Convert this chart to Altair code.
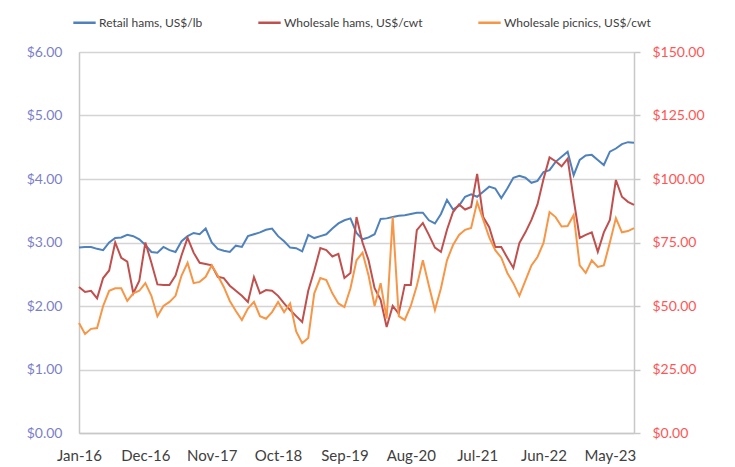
import altair as alt
import pandas as pd

months = [d.strftime("%b-%y") for d in pd.date_range("2016-01-01", periods=93, freq="MS")]
x_ticks = ["Jan-16", "Dec-16", "Nov-17", "Oct-18", "Sep-19", "Aug-20", "Jul-21", "Jun-22", "May-23"]

retail_hams = [
    2.92, 2.93, 2.93, 2.90, 2.88, 3.00, 3.07, 3.08, 3.12, 3.10,
    3.05, 2.96, 2.85, 2.84, 2.93, 2.88, 2.85, 3.02, 3.10, 3.15,
    3.13, 3.22, 3.00, 2.90, 2.87, 2.85, 2.95, 2.93, 3.10, 3.13,
    3.16, 3.20, 3.22, 3.10, 3.02, 2.92, 2.91, 2.86, 3.12, 3.07,
    3.10, 3.13, 3.22, 3.30, 3.35, 3.38, 3.15, 3.05, 3.08, 3.13,
    3.37, 3.38, 3.40, 3.42, 3.43, 3.45, 3.47, 3.47, 3.35, 3.30,
    3.45, 3.67, 3.52, 3.58, 3.72, 3.76, 3.72, 3.80, 3.88, 3.85,
    3.70, 3.85, 4.02, 4.05, 4.02, 3.94, 3.97, 4.11, 4.14, 4.27,
    4.35, 4.43, 4.06, 4.30, 4.37, 4.38, 4.30, 4.22, 4.43, 4.48,
    4.55, 4.58, 4.57,
]

wholesale_hams = [
    57.5, 55.5, 56.0, 53.0, 61.0, 64.0, 75.0, 69.0, 67.5, 55.0,
    60.0, 75.0, 67.0, 58.5, 58.3, 58.3, 62.0, 70.0, 76.8, 71.0,
    67.0, 66.5, 66.0, 61.5, 61.0, 58.0, 56.0, 54.0, 51.6, 61.4,
    55.0, 56.3, 56.0, 54.0, 51.0, 48.4, 46.0, 43.7, 56.0, 64.0,
    72.8, 72.0, 69.5, 70.5, 61.0, 63.0, 85.0, 75.0, 68.0, 57.0,
    52.4, 41.7, 50.0, 47.0, 58.3, 58.3, 79.9, 82.7, 78.0, 73.0,
    71.3, 80.0, 87.0, 90.0, 88.0, 89.0, 102.0, 85.0, 81.0, 73.2,
    73.2, 69.0, 65.0, 74.8, 79.0, 83.9, 90.0, 100.0, 108.5, 107.0,
    105.0, 108.0, 92.0, 76.8, 78.0, 79.0, 71.3, 79.0, 83.9, 99.6,
    93.0, 91.0, 89.8,
]

wholesale_picnics = [
    43.3, 39.0, 41.0, 41.3, 50.0, 56.0, 57.0, 57.0, 52.0, 55.0,
    56.0, 59.0, 54.0, 46.0, 50.0, 51.6, 54.0, 62.0, 67.0, 59.0,
    59.5, 61.5, 66.0, 62.0, 57.5, 52.0, 48.0, 44.5, 49.0, 51.6,
    46.0, 45.0, 47.6, 51.6, 47.6, 51.0, 40.0, 35.4, 37.4, 55.0,
    61.0, 60.2, 55.0, 51.0, 49.6, 57.0, 68.0, 71.0, 62.0, 50.0,
    59.0, 45.0, 85.0, 46.0, 44.5, 50.0, 58.0, 68.0, 58.0, 48.4,
    57.0, 68.0, 74.0, 78.0, 80.0, 80.7, 90.9, 84.0, 77.0, 72.0,
    69.0, 63.0, 59.0, 54.0, 60.0, 66.0, 69.3, 74.8, 87.0, 85.0,
    81.3, 81.5, 85.8, 66.0, 63.0, 68.0, 65.4, 66.0, 75.0, 84.6,
    79.0, 79.5, 80.7,
]

series_names = ["Retail hams, US$/lb", "Wholesale hams, US$/cwt", "Wholesale picnics, US$/cwt"]
series_colors = ["#4F81BD", "#C0504D", "#F79646"]

rows = []
for name, vals in zip(series_names, [retail_hams, wholesale_hams, wholesale_picnics]):
    for i, (m, v) in enumerate(zip(months, vals)):
        rows.append({"month": m, "idx": i, "series": name, "value": v})
df = pd.DataFrame(rows)

FONT = "Lato"

x_enc = alt.X(
    "month:O",
    sort=months,
    scale=alt.Scale(domain=months, padding=0),
    axis=alt.Axis(
        values=x_ticks, title=None, labelAngle=0, labelFontSize=15, labelColor="#404040",
        labelFont=FONT, labelPadding=15, ticks=False, domainColor="#c8c8c8", domainWidth=1.5,
        grid=False,
    ),
)

color_enc = alt.Color(
    "series:N",
    scale=alt.Scale(domain=series_names, range=series_colors),
    legend=alt.Legend(
        title=None, orient="none", legendX=-7, legendY=-42, direction="horizontal",
        symbolType="stroke", symbolStrokeWidth=2.5, symbolSize=500, labelFontSize=12,
        labelColor="#404040", labelFont=FONT, columnPadding=50, labelOffset=2,
    ),
)

left = alt.Chart(df).transform_filter(
    alt.datum.series == series_names[0]
).mark_line(strokeWidth=2).encode(
    x=x_enc,
    y=alt.Y(
        "value:Q",
        scale=alt.Scale(domain=[0, 6], nice=False, zero=True),
        axis=alt.Axis(
            orient="left", values=[0, 1, 2, 3, 4, 5, 6], format="$.2f", title=None,
            labelColor="#7B7FC8", labelFontSize=14, labelFont=FONT, labelPadding=17,
            ticks=False, domainColor="#c8c8c8", domainWidth=1.5,
            grid=True, gridColor="#d4d4d4", gridWidth=1.5,
        ),
    ),
    color=color_enc,
)

right = alt.Chart(df).transform_filter(
    alt.datum.series != series_names[0]
).mark_line(strokeWidth=2).encode(
    x=x_enc,
    y=alt.Y(
        "value:Q",
        scale=alt.Scale(domain=[0, 150], nice=False, zero=True),
        axis=alt.Axis(
            orient="right", values=[0, 25, 50, 75, 100, 125, 150], format="$.2f", title=None,
            labelColor="#FF5555", labelFontSize=14, labelFont=FONT, labelPadding=12,
            ticks=True, tickSize=6, tickColor="#c8c8c8", tickWidth=1.5,
            domainColor="#c8c8c8", domainWidth=1.5, grid=False,
        ),
    ),
    color=color_enc,
    detail="series:N",
)

chart = alt.layer(left, right).resolve_scale(y="independent").properties(
    width=555, height=381,
    autosize=alt.AutoSizeParams(type="none"),
    padding={"left": 71, "top": 44, "right": 90, "bottom": 34},
).configure_view(stroke=None).configure(background="white")

chart.save("out.html", embed_options={"renderer": "svg", "actions": False})
